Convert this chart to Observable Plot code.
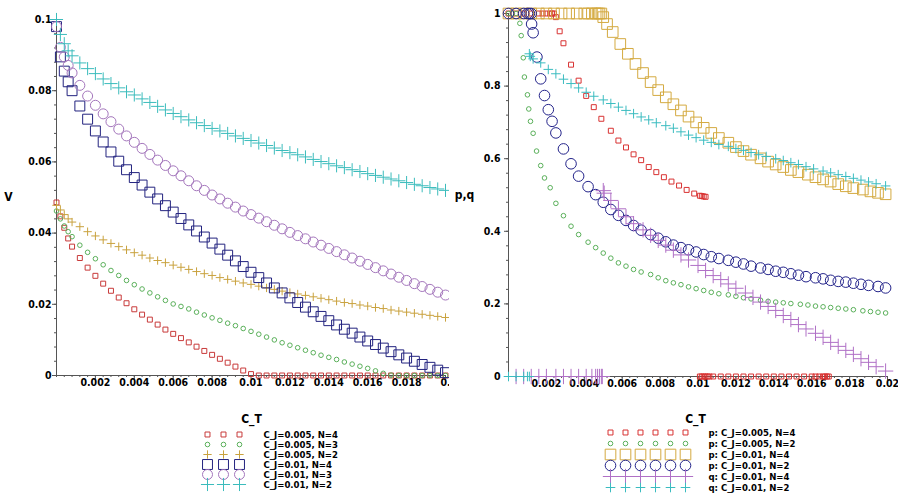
<!DOCTYPE html>
<html><head><meta charset="utf-8">
<script src="https://cdn.jsdelivr.net/npm/d3@7"></script>
<script src="https://cdn.jsdelivr.net/npm/@observablehq/plot@0.6"></script>
<style>
body{margin:0;background:#fff}
#chart{display:grid;grid-template-columns:449px 449px;grid-template-rows:400px 96px;width:898px;height:496px}
#chart svg{display:block}
</style>
</head><body><div id="chart"></div>
<script>
// ---------- LEFT PANEL DATA (V vs C_T) ----------
const ctL = [0, 0.0002, 0.0004, 0.0006, 0.0008, 0.0012, 0.0016, 0.002, 0.0024, 0.0028, 0.0032, 0.0036, 0.004, 0.0044, 0.0048, 0.0052, 0.0056, 0.006, 0.0064, 0.0068, 0.0072, 0.0076, 0.008, 0.0084, 0.0088, 0.0092, 0.0096, 0.01, 0.0104, 0.0108, 0.0112, 0.0116, 0.012, 0.0124, 0.0128, 0.0132, 0.0136, 0.014, 0.0144, 0.0148, 0.0152, 0.0156, 0.016, 0.0164, 0.0168, 0.0172, 0.0176, 0.018, 0.0184, 0.0188, 0.0192, 0.0196, 0.02];
const vL_005_4 = [0.0486, 0.0447, 0.0415, 0.0385, 0.0362, 0.0330, 0.0303, 0.0280, 0.0258, 0.0238, 0.0219, 0.0203, 0.0186, 0.0171, 0.0157, 0.0143, 0.0129, 0.0117, 0.0105, 0.0093, 0.0081, 0.0069, 0.0058, 0.0047, 0.0036, 0.0025, 0.0014, 0.0004, 0, 0, 0, 0, 0, 0, 0, 0, 0, 0, 0, 0, 0, 0, 0, 0, 0, 0, 0, 0, 0, 0, 0, 0, 0];
const vL_005_3 = [0.0462, 0.0440, 0.0420, 0.0404, 0.0390, 0.0366, 0.0346, 0.0328, 0.0311, 0.0295, 0.0281, 0.0267, 0.0255, 0.0243, 0.0232, 0.0221, 0.0211, 0.0201, 0.0194, 0.0187, 0.0178, 0.0170, 0.0162, 0.0155, 0.0147, 0.0140, 0.0132, 0.0124, 0.0116, 0.0108, 0.0100, 0.0092, 0.0085, 0.0078, 0.0071, 0.0064, 0.0057, 0.0051, 0.0045, 0.0038, 0.0032, 0.0026, 0.0020, 0.0013, 0.0006, 0.0001, 0, 0, 0, 0, 0, 0, 0];
const vL_005_2 = [0.0478, 0.0465, 0.0452, 0.0440, 0.0431, 0.0418, 0.0404, 0.0392, 0.0381, 0.0371, 0.0362, 0.0353, 0.0345, 0.0338, 0.0330, 0.0323, 0.0317, 0.0310, 0.0304, 0.0298, 0.0292, 0.0286, 0.0281, 0.0275, 0.0270, 0.0265, 0.0260, 0.0256, 0.0251, 0.0246, 0.0242, 0.0237, 0.0233, 0.0229, 0.0225, 0.0221, 0.0217, 0.0213, 0.0209, 0.0205, 0.0202, 0.0198, 0.0195, 0.0191, 0.0188, 0.0184, 0.0181, 0.0178, 0.0175, 0.0172, 0.0169, 0.0166, 0.0163];
const vL_01_4 = [0.0980, 0.0895, 0.0855, 0.0825, 0.0800, 0.0757, 0.0720, 0.0687, 0.0656, 0.0628, 0.0602, 0.0578, 0.0556, 0.0535, 0.0515, 0.0496, 0.0477, 0.0459, 0.0441, 0.0423, 0.0406, 0.0389, 0.0372, 0.0355, 0.0338, 0.0322, 0.0306, 0.0290, 0.0275, 0.0260, 0.0246, 0.0232, 0.0218, 0.0205, 0.0192, 0.0179, 0.0166, 0.0154, 0.0142, 0.0130, 0.0119, 0.0108, 0.0097, 0.0087, 0.0077, 0.0067, 0.0058, 0.0049, 0.0040, 0.0031, 0.0023, 0.0015, 0.0008];
const vL_01_3 = [0.0980, 0.0922, 0.0895, 0.0871, 0.0850, 0.0815, 0.0785, 0.0759, 0.0735, 0.0713, 0.0692, 0.0673, 0.0655, 0.0638, 0.0621, 0.0605, 0.0590, 0.0575, 0.0561, 0.0547, 0.0533, 0.0520, 0.0507, 0.0496, 0.0484, 0.0473, 0.0462, 0.0452, 0.0442, 0.0432, 0.0422, 0.0412, 0.0402, 0.0393, 0.0384, 0.0375, 0.0366, 0.0357, 0.0348, 0.0339, 0.0330, 0.0321, 0.0312, 0.0303, 0.0294, 0.0285, 0.0276, 0.0267, 0.0258, 0.0250, 0.0242, 0.0234, 0.0226];
const vL_01_2 = [0.1000, 0.0958, 0.0932, 0.0912, 0.0898, 0.0878, 0.0862, 0.0848, 0.0833, 0.0820, 0.0808, 0.0797, 0.0788, 0.0777, 0.0767, 0.0756, 0.0746, 0.0736, 0.0727, 0.0718, 0.0710, 0.0702, 0.0694, 0.0687, 0.0680, 0.0673, 0.0666, 0.0660, 0.0653, 0.0646, 0.0639, 0.0632, 0.0626, 0.0620, 0.0614, 0.0607, 0.0601, 0.0595, 0.0589, 0.0584, 0.0578, 0.0573, 0.0567, 0.0562, 0.0557, 0.0552, 0.0547, 0.0542, 0.0537, 0.0533, 0.0528, 0.0524, 0.0520];
const labelsL = ["C_J=0.005, N=4", "C_J=0.005, N=3", "C_J=0.005, N=2", "C_J=0.01, N=4", "C_J=0.01, N=3", "C_J=0.01, N=2"];

// ---------- RIGHT PANEL DATA (p,q vs C_T) ----------
const xR1 = [0, 0.0004, 0.0008, 0.0012, 0.0016, 0.0018, 0.002, 0.0022, 0.0023, 0.0024, 0.0025, 0.0027, 0.0029, 0.0033, 0.0037, 0.0041, 0.0045, 0.0049, 0.0054, 0.0058, 0.0062, 0.0066, 0.007, 0.0074, 0.0078, 0.0082, 0.0086, 0.009, 0.0094, 0.0098, 0.0101, 0.0102, 0.0103, 0.0104, 0.0101, 0.0102, 0.0103, 0.0104, 0.0105, 0.0106, 0.0108, 0.0112, 0.0116, 0.012, 0.0124, 0.0128, 0.0132, 0.0136, 0.014, 0.0144, 0.0148, 0.0152, 0.0156, 0.016, 0.0162, 0.0164, 0.0166, 0.0167, 0.0168, 0.0169];
const vR1 = [1, 1, 1, 1, 1, 1, 1, 1, 1, 1, 0.99, 0.951, 0.918, 0.859, 0.815, 0.773, 0.742, 0.710, 0.677, 0.650, 0.631, 0.612, 0.596, 0.577, 0.563, 0.549, 0.537, 0.526, 0.514, 0.504, 0.498, 0.497, 0.496, 0.495, 0, 0, 0, 0, 0, 0, 0, 0, 0, 0, 0, 0, 0, 0, 0, 0, 0, 0, 0, 0, 0, 0, 0, 0, 0, 0];
const xR2 = [0, 0.0002, 0.0004, 0.0006, 0.00067, 0.00078, 0.00084, 0.001, 0.00107, 0.00116, 0.0013, 0.00148, 0.0017, 0.0019, 0.0022, 0.0025, 0.0029, 0.0033, 0.0037, 0.0042, 0.0046, 0.005, 0.0054, 0.0058, 0.0062, 0.0066, 0.007, 0.0075, 0.0079, 0.0083, 0.0087, 0.0091, 0.0095, 0.0099, 0.0103, 0.0107, 0.0111, 0.0116, 0.012, 0.0124, 0.0128, 0.0133, 0.0137, 0.0141, 0.0145, 0.0149, 0.0154, 0.0158, 0.0162, 0.0166, 0.017, 0.0174, 0.0178, 0.0182, 0.0187, 0.0191, 0.0195, 0.0199];
const vR2 = [1, 1, 1, 0.973, 0.939, 0.878, 0.825, 0.776, 0.737, 0.703, 0.670, 0.621, 0.581, 0.547, 0.520, 0.477, 0.443, 0.414, 0.391, 0.370, 0.355, 0.340, 0.326, 0.313, 0.304, 0.295, 0.288, 0.281, 0.272, 0.264, 0.258, 0.253, 0.247, 0.242, 0.237, 0.232, 0.228, 0.225, 0.221, 0.217, 0.214, 0.210, 0.207, 0.205, 0.203, 0.201, 0.199, 0.197, 0.194, 0.192, 0.190, 0.188, 0.186, 0.184, 0.181, 0.179, 0.177, 0.175];
const xR3 = [0, 0.0004, 0.0008, 0.0012, 0.0016, 0.002, 0.0024, 0.0028, 0.0032, 0.0036, 0.004, 0.0042, 0.0044, 0.0046, 0.0047, 0.0048, 0.0049, 0.005, 0.0052, 0.0055, 0.0059, 0.0063, 0.0067, 0.0071, 0.0075, 0.0079, 0.0083, 0.0087, 0.0091, 0.0095, 0.0099, 0.0103, 0.0107, 0.0111, 0.0116, 0.012, 0.0124, 0.0128, 0.0133, 0.0137, 0.0141, 0.0145, 0.0149, 0.0153, 0.0158, 0.0162, 0.0166, 0.017, 0.0174, 0.0178, 0.0182, 0.0187, 0.0191, 0.0195, 0.0199];
const vR3 = [1, 1, 1, 1, 1, 1, 1, 1, 1, 1, 1, 1, 1, 1, 1, 1, 1, 0.99, 0.971, 0.949, 0.916, 0.889, 0.861, 0.836, 0.811, 0.789, 0.769, 0.750, 0.733, 0.716, 0.700, 0.685, 0.671, 0.657, 0.644, 0.632, 0.621, 0.611, 0.601, 0.592, 0.584, 0.577, 0.569, 0.563, 0.556, 0.549, 0.543, 0.537, 0.530, 0.524, 0.519, 0.515, 0.510, 0.506, 0.502];
const xR4 = [0, 0.0004, 0.0008, 0.001, 0.0011, 0.0012, 0.00122, 0.0013, 0.0015, 0.0017, 0.0019, 0.0021, 0.0023, 0.0025, 0.0029, 0.0033, 0.0037, 0.0042, 0.0046, 0.005, 0.0054, 0.0058, 0.0062, 0.0066, 0.007, 0.0075, 0.0079, 0.0083, 0.0087, 0.0091, 0.0095, 0.0099, 0.0103, 0.0107, 0.0111, 0.0116, 0.012, 0.0124, 0.0128, 0.0133, 0.0137, 0.0141, 0.0145, 0.0149, 0.0153, 0.0157, 0.0162, 0.0166, 0.017, 0.0174, 0.0178, 0.0182, 0.0186, 0.019, 0.0195, 0.0199];
const vR4 = [1, 1, 1, 1, 1, 1, 0.971, 0.947, 0.880, 0.820, 0.774, 0.735, 0.703, 0.671, 0.627, 0.586, 0.552, 0.523, 0.501, 0.480, 0.460, 0.444, 0.430, 0.416, 0.403, 0.391, 0.381, 0.371, 0.362, 0.355, 0.349, 0.343, 0.336, 0.330, 0.325, 0.320, 0.315, 0.310, 0.304, 0.299, 0.295, 0.290, 0.287, 0.283, 0.279, 0.275, 0.272, 0.269, 0.265, 0.262, 0.260, 0.257, 0.254, 0.251, 0.248, 0.244];
const xR5 = [0.0004, 0.0008, 0.0012, 0.0016, 0.002, 0.0025, 0.0029, 0.0033, 0.0037, 0.0041, 0.0044, 0.0046, 0.0047, 0.0048, 0.0049, 0.00495, 0.005, 0.00505, 0.0054, 0.0058, 0.0062, 0.0066, 0.0071, 0.0075, 0.0079, 0.0083, 0.0087, 0.0091, 0.0095, 0.01, 0.0104, 0.0108, 0.0112, 0.0116, 0.012, 0.0125, 0.0129, 0.0133, 0.0137, 0.0141, 0.0145, 0.0149, 0.0153, 0.0157, 0.0162, 0.0166, 0.017, 0.0174, 0.0178, 0.0182, 0.0186, 0.019, 0.0194, 0.0199];
const vR5 = [0, 0, 0, 0, 0, 0, 0, 0, 0, 0, 0, 0, 0, 0, 0, 0, 0.512, 0.505, 0.485, 0.462, 0.440, 0.421, 0.404, 0.389, 0.375, 0.362, 0.348, 0.335, 0.321, 0.306, 0.292, 0.278, 0.267, 0.255, 0.243, 0.230, 0.218, 0.205, 0.193, 0.182, 0.168, 0.157, 0.143, 0.131, 0.119, 0.108, 0.094, 0.083, 0.072, 0.061, 0.049, 0.039, 0.027, 0.015];
const xR6 = [0, 0.0004, 0.0008, 0.001, 0.0011, 0.0011, 0.00115, 0.0013, 0.0017, 0.0021, 0.0025, 0.0029, 0.0033, 0.0037, 0.0041, 0.0045, 0.005, 0.0054, 0.0058, 0.0062, 0.0066, 0.007, 0.0074, 0.0078, 0.0083, 0.0087, 0.0091, 0.0095, 0.0099, 0.0103, 0.0107, 0.0111, 0.0116, 0.012, 0.0124, 0.0128, 0.0132, 0.0136, 0.0141, 0.0145, 0.0149, 0.0153, 0.0157, 0.0161, 0.0166, 0.017, 0.0174, 0.0178, 0.0182, 0.0186, 0.019, 0.0194, 0.0199];
const vR6 = [0, 0, 0, 0, 0, 0.889, 0.882, 0.875, 0.864, 0.846, 0.834, 0.819, 0.807, 0.795, 0.783, 0.772, 0.762, 0.752, 0.742, 0.733, 0.724, 0.715, 0.707, 0.699, 0.691, 0.684, 0.674, 0.665, 0.658, 0.651, 0.645, 0.639, 0.634, 0.628, 0.623, 0.617, 0.611, 0.606, 0.600, 0.595, 0.589, 0.584, 0.578, 0.572, 0.566, 0.561, 0.556, 0.551, 0.546, 0.541, 0.536, 0.531, 0.525];
const labelsR = ["p: C_J=0.005, N=4", "p: C_J=0.005, N=2", "p: C_J=0.01, N=4", "p: C_J=0.01, N=2", "q: C_J=0.01, N=4", "q: C_J=0.01, N=2"];

// ---------- TICKS ----------
const xTicks = [0.002, 0.004, 0.006, 0.008, 0.01, 0.012, 0.014, 0.016, 0.018, 0.02];
const xTickLabelsL = ["0.002", "0.004", "0.006", "0.008", "0.01", "0.012", "0.014", "0.016", "0.018", "0."];
const xTickLabelsR = ["0.002", "0.004", "0.006", "0.008", "0.01", "0.012", "0.014", "0.016", "0.018", "0.02"];
const yTicksL = [0, 0.02, 0.04, 0.06, 0.08, 0.1];
const yTickLabelsL = ["0", "0.02", "0.04", "0.06", "0.08", "0.1"];
const yTicksR = [0, 0.2, 0.4, 0.6, 0.8, 1];
const yTickLabelsR = ["0", "0.2", "0.4", "0.6", "0.8", "1"];

// ---------- STYLE ----------
const FONT = '"DejaVu Sans Condensed","Liberation Sans",sans-serif';
const AX = "#555";
const stylesL = [
  {symbol: "square", r: 2.8, stroke: "#c83a3a"},
  {symbol: "circle", r: 2.3, stroke: "#5ab05a"},
  {symbol: "plus", r: 2.8, stroke: "#c9a23e"},
  {symbol: "square", r: 5.6, stroke: "#23237f"},
  {symbol: "circle", r: 5.0, stroke: "#a476bc"},
  {symbol: "plus", r: 4.3, stroke: "#3bbcbc"}
];
const stylesR = [
  {symbol: "square", r: 2.8, stroke: "#d83232"},
  {symbol: "circle", r: 2.3, stroke: "#5ab05a"},
  {symbol: "square", r: 6.0, stroke: "#d4aa40"},
  {symbol: "circle", r: 5.3, stroke: "#23238a"},
  {symbol: "plus", r: 5.0, stroke: "#b070c6"},
  {symbol: "plus", r: 3.2, stroke: "#3bbcc0"}
];

const rows = (xs, vs) => xs.map((x, i) => ({x, v: vs[i]}));
const fmt = (ticks, labels) => { const m = new Map(ticks.map((t, i) => [t, labels[i]])); return d => m.get(d) ?? ""; };

function panel({series, styles, xLabels, yTicks, yLabels, yMax, yMinorStep, margins, ylab, ylabDx, yPad}) {
  return Plot.plot({
    width: 449, height: 400,
    ...margins,
    style: {fontFamily: FONT, fontWeight: "bold", fontSize: "11px", background: "white", color: "black", overflow: "visible"},
    x: {domain: [0, 0.02], label: null},
    y: {domain: [0, yMax], label: null},
    marks: [
      Plot.axisX({ticks: d3.range(0, 0.02001, 0.0004), tickSize: 2, tickFormat: () => "", stroke: AX, label: null}),
      Plot.axisX({ticks: xTicks, tickSize: 4, tickPadding: -1, tickFormat: fmt(xTicks, xLabels), stroke: AX, fontSize: 10.5, fontWeight: "bold", label: null}),
      Plot.axisY({ticks: d3.range(0, yMax * 1.0001, yMinorStep), tickSize: 2, tickFormat: () => "", stroke: AX, label: null}),
      Plot.axisY({ticks: yTicks, tickSize: 4, tickPadding: yPad, tickFormat: fmt(yTicks, yLabels), stroke: AX, fontSize: 10.5, fontWeight: "bold", label: null}),
      Plot.ruleY([0], {stroke: AX}),
      Plot.ruleX([0], {stroke: AX}),
      ...series.map((s, i) => Plot.dot(s, {x: "x", y: "v", symbol: styles[i].symbol, r: styles[i].r, stroke: styles[i].stroke, fill: "none", strokeWidth: 1})),
      Plot.text([ylab], {frameAnchor: "left", dx: ylabDx, textAnchor: "middle", fontSize: 12, fontWeight: "bold"})
    ]
  });
}

function legend({labels, styles, cols, colRange, rowRange, textDx, titleDx}) {
  return Plot.plot({
    width: 449, height: 96, margin: 0,
    style: {fontFamily: FONT, fontWeight: "bold", fontSize: "10px", background: "white", color: "black", overflow: "visible"},
    x: {type: "point", domain: cols, range: colRange, padding: 0, axis: null},
    y: {type: "point", domain: labels, range: rowRange, padding: 0, axis: null},
    marks: [
      Plot.text(["C_T"], {frameAnchor: "top-left", dx: titleDx, dy: 19, textAnchor: "middle", lineAnchor: "middle", fontSize: 12}),
      ...labels.map((lab, i) => Plot.dot(cols, {x: d => d, y: () => lab, symbol: styles[i].symbol, r: styles[i].r, stroke: styles[i].stroke, fill: "none", strokeWidth: 1})),
      Plot.text(labels, {y: d => d, text: d => d, frameAnchor: "left", dx: textDx, textAnchor: "start", lineAnchor: "middle", fontSize: 9.5})
    ]
  });
}

const seriesL = [vL_005_4, vL_005_3, vL_005_2, vL_01_4, vL_01_3, vL_01_2].map(vs => rows(ctL, vs));
const seriesR = [[xR1, vR1], [xR2, vR2], [xR3, vR3], [xR4, vR4], [xR5, vR5], [xR6, vR6]].map(([xs, vs]) => rows(xs, vs));

const left = panel({series: seriesL, styles: stylesL, xLabels: xTickLabelsL, yTicks: yTicksL, yLabels: yTickLabelsL, yMax: 0.1, yMinorStep: 0.004,
  margins: {marginLeft: 56, marginRight: 4, marginTop: 19, marginBottom: 25}, ylab: "V", ylabDx: -48, yPad: 1});
const right = panel({series: seriesR, styles: stylesR, xLabels: xTickLabelsR, yTicks: yTicksR, yLabels: yTickLabelsR, yMax: 1, yMinorStep: 0.04,
  margins: {marginLeft: 59, marginRight: 11, marginTop: 13, marginBottom: 24}, ylab: "p,q", ylabDx: -44, yPad: 4});
const legL = legend({labels: labelsL, styles: stylesL, cols: [0, 1, 2], colRange: [206, 239], rowRange: [32, 85], textDx: 263, titleDx: 251});
const legR = legend({labels: labelsR, styles: stylesR, cols: [0, 1, 2, 3, 4, 5], colRange: [160, 237], rowRange: [32, 87], textDx: 259, titleDx: 246});

const el = document.getElementById("chart");
el.append(left, right, legL, legR);
</script>
</body></html>
